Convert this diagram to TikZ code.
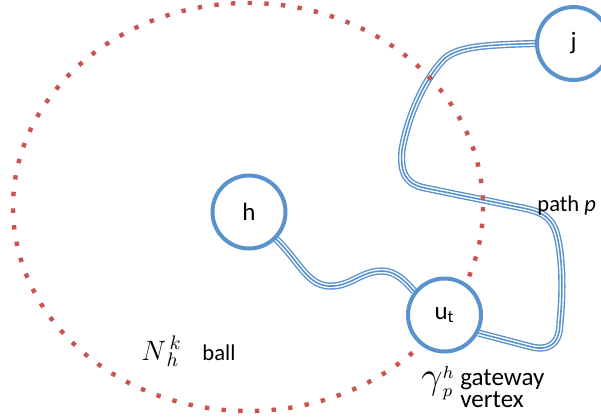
\documentclass[tikz,border=0pt]{standalone}
\usepackage{fix-cm}
\usepackage{fontspec}
\setmainfont{Carlito}
\usetikzlibrary{backgrounds}
\definecolor{knotenblau}{HTML}{5A92CD}
\definecolor{ballrot}{HTML}{C9534F}
\tikzset{
  knoten/.style={circle, draw=knotenblau, line width=2pt, fill=white,
    minimum size=36.5pt, inner sep=0pt, font=\fontsize{12.5}{14}\selectfont},
  pfad/.style={draw=white, line width=2.2pt,
    preaction={draw=knotenblau, line width=3.6pt},
    postaction={draw=knotenblau, line width=0.8pt}},
  ball/.style={draw=ballrot, line width=2.2pt, dash pattern=on 2.2pt off 6.15pt},
  beschriftung/.style={anchor=base west, inner sep=0pt,
    font=\fontsize{11.3}{12}\selectfont}
}
\begin{document}
\begin{tikzpicture}[x=0.5pt, y=-0.5pt]
\useasboundingbox (0,0) rectangle (601,419);

% Knoten
\node[knoten] (h) at (249,212) {h};
\node[knoten] (u) at (444.5,315) {u\textsubscript{t}};
\node[knoten] (j) at (573.5,43.5) {j};

\begin{pgfonlayer}{background}
% Pfad von h nach u_t
\draw[pfad] (h.-45) .. controls (300,262) and (308,288) .. (333,286)
  .. controls (352,285) and (362,271) .. (382,271)
  .. controls (396,271) and (406,282) .. (u.142);

% Pfad p von u_t nach j
\draw[pfad] (u.-28) -- (528,346)
  .. controls (548,352) and (560,345) .. (560,322)
  .. controls (563,295) and (563,255) .. (556,232)
  .. controls (550,214) and (538,211) .. (518,207)
  -- (425,188)
  .. controls (405,184) and (400,172) .. (402,150)
  .. controls (408,115) and (425,78) .. (445,58)
  .. controls (460,47) and (480,45) .. (j.180);

% Ball um h
\draw[ball] (248,207) ellipse [x radius=235, y radius=204];
\end{pgfonlayer}

% Beschriftungen
\node[beschriftung] (pfadname) at (537,211) {path \textit{p}};
\node[beschriftung, font=\fontsize{14}{14}\selectfont] (nhk) at (141,360) {$N^{\,k}_{\,h}$};
\node[beschriftung] (ball) at (202,360) {ball};
\node[beschriftung, font=\fontsize{12.5}{14}\selectfont] (gamma) at (421,388)
  {$\mbox{\fontsize{19}{19}\selectfont$\gamma$}_p^h$};
\node[beschriftung, font=\fontsize{12.5}{14}\selectfont] (gateway) at (460,385) {gateway};
\node[beschriftung, font=\fontsize{12.5}{14}\selectfont] (vertex) at (460,407) {vertex};

\end{tikzpicture}
\end{document}
